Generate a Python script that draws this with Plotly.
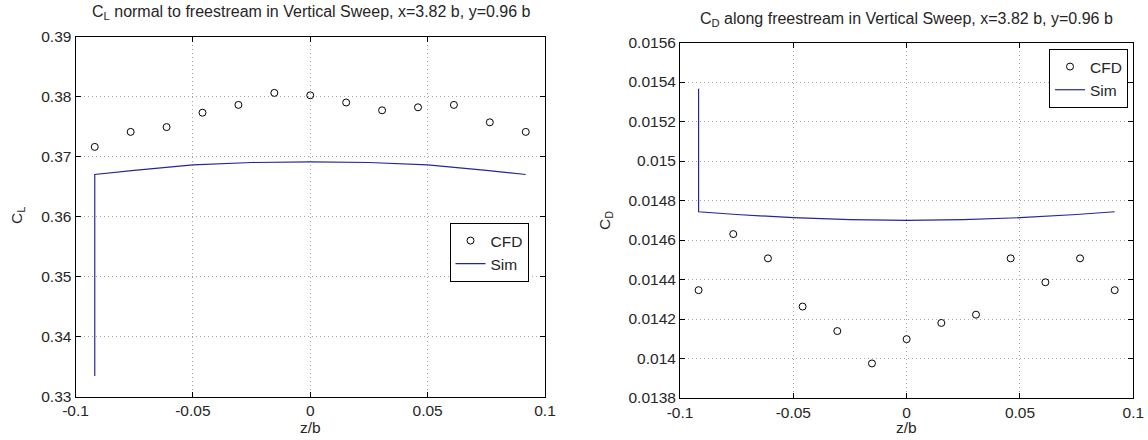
import plotly.graph_objects as go

# ---- data ----
cfd_z = [-0.0918, -0.0765, -0.0612, -0.0459, -0.0306, -0.0153, 0.0,
         0.0153, 0.0306, 0.0459, 0.0612, 0.0765, 0.0918]
cfd_cl = [0.3716, 0.3741, 0.3749, 0.3773, 0.3786, 0.3806, 0.3802,
          0.3790, 0.3777, 0.3782, 0.3786, 0.3757, 0.3741]
cfd_cd = [0.014346, 0.014630, 0.014507, 0.014263, 0.014139, 0.013975, 0.014098,
          0.014180, 0.014222, 0.014507, 0.014386, 0.014507, 0.014346]

sim_z = [-0.0918, -0.0918, -0.075, -0.05, -0.025, 0.0, 0.025, 0.05, 0.075, 0.0918]
sim_cl = [0.3334, 0.3670, 0.3677, 0.3686, 0.3690, 0.3691, 0.3690, 0.3686, 0.3677, 0.3670]
sim_cd = [0.015366, 0.014743, 0.014729, 0.014713, 0.014703, 0.014699,
          0.014703, 0.014713, 0.014729, 0.014743]

x_ticks = [-0.1, -0.05, 0, 0.05, 0.1]
x_ticktext = ["-0.1", "-0.05", "0", "0.05", "0.1"]
cl_ticks = [0.33, 0.34, 0.35, 0.36, 0.37, 0.38, 0.39]
cl_ticktext = ["0.33", "0.34", "0.35", "0.36", "0.37", "0.38", "0.39"]
cd_ticks = [0.0138, 0.0140, 0.0142, 0.0144, 0.0146, 0.0148, 0.0150, 0.0152, 0.0154, 0.0156]
cd_ticktext = ["0.0138", "0.014", "0.0142", "0.0144", "0.0146", "0.0148",
               "0.015", "0.0152", "0.0154", "0.0156"]

title_l = "C<sub>L</sub> normal to freestream in Vertical Sweep, x=3.82 b, y=0.96 b"
title_r = "C<sub>D</sub> along freestream in Vertical Sweep, x=3.82 b, y=0.96 b"

FONT = "Liberation Sans, Arial, Helvetica, sans-serif"
TXT = "#262626"
FS = 15.5
SIM_COLOR = "#26269a"
W, H = 1148, 440

fig = go.Figure()
fig.add_trace(go.Scatter(x=cfd_z, y=cfd_cl, mode="markers", name="CFD",
                         marker=dict(symbol="circle-open", size=7, color="black",
                                     line=dict(width=1, color="black")),
                         xaxis="x", yaxis="y", legend="legend"))
fig.add_trace(go.Scatter(x=sim_z, y=sim_cl, mode="lines", name="Sim",
                         line=dict(color=SIM_COLOR, width=1.2),
                         xaxis="x", yaxis="y", legend="legend"))
fig.add_trace(go.Scatter(x=cfd_z, y=cfd_cd, mode="markers", name="CFD",
                         marker=dict(symbol="circle-open", size=7, color="black",
                                     line=dict(width=1, color="black")),
                         xaxis="x2", yaxis="y2", legend="legend2"))
fig.add_trace(go.Scatter(x=sim_z, y=sim_cd, mode="lines", name="Sim",
                         line=dict(color=SIM_COLOR, width=1.2),
                         xaxis="x2", yaxis="y2", legend="legend2"))

axis_common = dict(showline=True, linecolor="black", linewidth=1, mirror="ticks",
                   ticks="inside", ticklen=5, tickcolor="black", tickwidth=1,
                   showgrid=True, gridcolor="#a8a8a8", gridwidth=1, griddash="1px,3px",
                   zeroline=False, automargin=False,
                   tickfont=dict(family=FONT, size=FS, color=TXT))

def px_x(p):
    return p / W

def px_y(p):
    return (H - p) / H

fig.update_layout(
    width=W, height=H,
    margin=dict(l=0, r=0, t=0, b=0),
    paper_bgcolor="white", plot_bgcolor="white",
    font=dict(family=FONT, size=FS, color=TXT),
    xaxis=dict(domain=[px_x(75.5), px_x(545)], range=[-0.1, 0.1],
               tickvals=x_ticks, ticktext=x_ticktext, anchor="y", **axis_common),
    yaxis=dict(domain=[px_y(396.5), px_y(36.5)], range=[0.33, 0.39],
               tickvals=cl_ticks, ticktext=cl_ticktext, anchor="x", **axis_common),
    xaxis2=dict(domain=[px_x(680), px_x(1133.3)], range=[-0.1, 0.1],
                tickvals=x_ticks, ticktext=x_ticktext, anchor="y2", **axis_common),
    yaxis2=dict(domain=[px_y(398), px_y(42.5)], range=[0.0138, 0.0156],
                tickvals=cd_ticks, ticktext=cd_ticktext, anchor="x2", **axis_common),
    legend=dict(x=px_x(528.5), y=px_y(223), xanchor="right", yanchor="top",
                bgcolor="white", bordercolor="black", borderwidth=1,
                font=dict(family=FONT, size=FS, color=TXT),
                tracegroupgap=0, itemwidth=30),
    legend2=dict(x=px_x(1128), y=px_y(49), xanchor="right", yanchor="top",
                 bgcolor="white", bordercolor="black", borderwidth=1,
                 font=dict(family=FONT, size=FS, color=TXT),
                 tracegroupgap=0, itemwidth=30),
    showlegend=True,
)

ann = []
ann.append(dict(text=title_l, x=px_x(311), y=px_y(13), xref="paper", yref="paper",
                xanchor="center", yanchor="middle", showarrow=False,
                font=dict(family=FONT, size=16, color=TXT)))
ann.append(dict(text=title_r, x=px_x(906), y=px_y(19), xref="paper", yref="paper",
                xanchor="center", yanchor="middle", showarrow=False,
                font=dict(family=FONT, size=16, color=TXT)))
ann.append(dict(text="z/b", x=px_x(310), y=px_y(427), xref="paper", yref="paper",
                xanchor="center", yanchor="middle", showarrow=False,
                font=dict(family=FONT, size=FS, color=TXT)))
ann.append(dict(text="z/b", x=px_x(906), y=px_y(427), xref="paper", yref="paper",
                xanchor="center", yanchor="middle", showarrow=False,
                font=dict(family=FONT, size=FS, color=TXT)))
ann.append(dict(text="C<sub>L</sub>", x=px_x(17), y=px_y(216), xref="paper", yref="paper",
                xanchor="center", yanchor="middle", showarrow=False, textangle=-90,
                font=dict(family=FONT, size=FS, color=TXT)))
ann.append(dict(text="C<sub>D</sub>", x=px_x(605), y=px_y(220), xref="paper", yref="paper",
                xanchor="center", yanchor="middle", showarrow=False, textangle=-90,
                font=dict(family=FONT, size=FS, color=TXT)))
fig.update_layout(annotations=ann)

fig.write_html("out.html")
